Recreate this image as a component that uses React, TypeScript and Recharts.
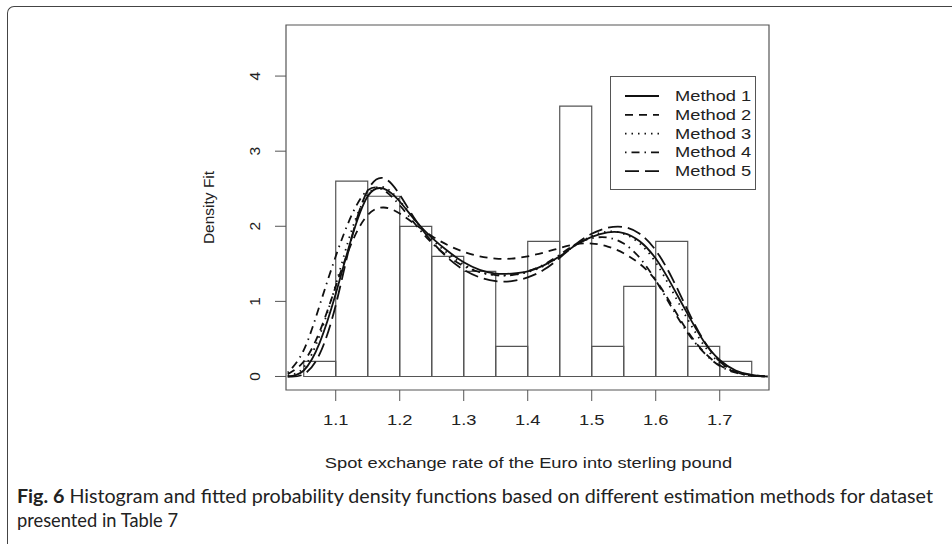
import React from "react";
import {
  ComposedChart,
  Line,
  XAxis,
  YAxis,
  ReferenceArea,
  Legend,
  Label,
} from "recharts";

// grid of x values the fitted densities were read at
const X_VALUES = [
  1.025, 1.05, 1.075, 1.1, 1.125, 1.15, 1.175, 1.2, 1.225, 1.25, 1.275, 1.3, 1.325, 1.35, 1.375, 1.4,
  1.425, 1.45, 1.475, 1.5, 1.525, 1.55, 1.575, 1.6, 1.625, 1.65, 1.675, 1.7, 1.725, 1.75, 1.775,
];

const METHOD_1 = [
  0.0, 0.08, 0.45, 1.1, 1.85, 2.4, 2.5, 2.33, 2.07, 1.85, 1.67, 1.52, 1.42, 1.37, 1.37, 1.4,
  1.48, 1.6, 1.75, 1.86, 1.92, 1.91, 1.8, 1.57, 1.22, 0.83, 0.47, 0.22, 0.08, 0.02, 0.0,
];
const METHOD_2 = [
  0.03, 0.2, 0.6, 1.2, 1.78, 2.15, 2.25, 2.17, 2.02, 1.87, 1.75, 1.66, 1.6, 1.57, 1.57, 1.6,
  1.65, 1.71, 1.76, 1.77, 1.73, 1.64, 1.5, 1.28, 0.95, 0.6, 0.33, 0.15, 0.06, 0.02, 0.0,
];
const METHOD_3 = [
  0.01, 0.12, 0.55, 1.22, 1.95, 2.42, 2.52, 2.34, 2.07, 1.83, 1.64, 1.49, 1.39, 1.35, 1.35, 1.39,
  1.47, 1.6, 1.75, 1.87, 1.93, 1.9, 1.77, 1.52, 1.15, 0.76, 0.42, 0.18, 0.06, 0.01, 0.0,
];
const METHOD_4 = [
  0.05, 0.35, 0.95, 1.6, 2.15, 2.48, 2.48, 2.28, 2.02, 1.78, 1.6, 1.47, 1.39, 1.35, 1.35, 1.4,
  1.49, 1.62, 1.76, 1.84, 1.85, 1.77, 1.58, 1.28, 0.92, 0.58, 0.32, 0.14, 0.05, 0.01, 0.0,
];
const METHOD_5 = [
  0.0, 0.03, 0.3, 0.95, 1.85, 2.48, 2.64, 2.42, 2.08, 1.8, 1.58, 1.42, 1.32, 1.27, 1.27, 1.32,
  1.42, 1.58, 1.76, 1.9, 1.98, 1.99, 1.9, 1.68, 1.32, 0.88, 0.48, 0.2, 0.06, 0.01, 0.0,
];

// histogram: bin edges and density heights
const BIN_EDGES = [1.05, 1.1, 1.15, 1.2, 1.25, 1.3, 1.35, 1.4, 1.45, 1.5, 1.55, 1.6, 1.65, 1.7, 1.75];
const BIN_DENSITY = [0.2, 2.6, 2.4, 2.0, 1.6, 1.4, 0.4, 1.8, 3.6, 0.4, 1.2, 1.8, 0.4, 0.2];

const X_TICKS = [1.1, 1.2, 1.3, 1.4, 1.5, 1.6, 1.7];
const Y_TICKS = [0, 1, 2, 3, 4];
const X_DOMAIN = [1.0223, 1.777];
const Y_DOMAIN = [-0.18, 4.68];

const SERIES = [
  { key: "m1", name: "Method 1", dash: undefined },
  { key: "m2", name: "Method 2", dash: "8 6" },
  { key: "m3", name: "Method 3", dash: "1.5 5" },
  { key: "m4", name: "Method 4", dash: "1.5 5 8 5" },
  { key: "m5", name: "Method 5", dash: "14 6" },
];

const curves = [METHOD_1, METHOD_2, METHOD_3, METHOD_4, METHOD_5];
const data = X_VALUES.map((x, i) => {
  const row: any = { x };
  SERIES.forEach((s, j) => (row[s.key] = curves[j][i]));
  return row;
});

const FONT = "'Liberation Sans', Arial, sans-serif";
const STRETCH = 1.18;

const XTick = (props: any) => {
  const { x, y, payload } = props;
  return (
    <g transform={`translate(${x},${y + 22}) scale(${STRETCH},1)`}>
      <text x={0} y={0} textAnchor="middle" fontSize={15.5} fontFamily={FONT} fill="#222">
        {payload.value}
      </text>
    </g>
  );
};

const YTick = (props: any) => {
  const { x, y, payload } = props;
  return (
    <text
      transform={`translate(${x - 19},${y}) rotate(-90)`}
      textAnchor="middle"
      dominantBaseline="central"
      fontSize={15.5}
      fontFamily={FONT}
      fill="#222"
    >
      {payload.value}
    </text>
  );
};

const renderLegend = () => (
  <svg width={147} height={115}>
    <rect x={0.5} y={0.5} width={145} height={113} fill="#fff" stroke="#555" />
    {SERIES.map((s, i) => {
      const cy = 20 + i * 18.8;
      return (
        <g key={s.key}>
          <line x1={15} x2={49} y1={cy} y2={cy} stroke="#111" strokeWidth={1.8} strokeDasharray={s.dash} />
          <g transform={`translate(65,${cy}) scale(${STRETCH},1)`}>
            <text x={0} y={0} dominantBaseline="central" fontSize={15.5} fontFamily={FONT} fill="#222">
              {s.name}
            </text>
          </g>
        </g>
      );
    })}
  </svg>
);

export default function App() {
  return (
    <div style={{ position: "absolute", left: 0, top: 0, width: 952, height: 544, background: "#fff", overflow: "hidden" }}>
      <div
        style={{
          position: "absolute",
          left: 7,
          top: 6,
          width: 1000,
          height: 600,
          borderTop: "1.5px solid #444",
          borderLeft: "1.5px solid #444",
          borderTopLeftRadius: 7,
        }}
      />
      <div style={{ position: "absolute", left: 0, top: 0 }}>
        <ComposedChart width={952} height={544} data={data} margin={{ top: 25, right: 183, bottom: 0, left: 0 }}>
          <XAxis
            type="number"
            dataKey="x"
            domain={X_DOMAIN}
            ticks={X_TICKS}
            interval={0}
            allowDataOverflow
            height={154}
            tickSize={11}
            axisLine={false}
            tickLine={{ stroke: "#555" }}
            tick={<XTick />}
          >
            <Label
              content={(p: any) => {
                const vb = p.viewBox;
                return (
                  <g transform={`translate(${vb.x + vb.width / 2 + 1},${vb.y + 78}) scale(${STRETCH},1)`}>
                    <text x={0} y={0} textAnchor="middle" fontSize={15.5} fontFamily={FONT} fill="#222">
                      Spot exchange rate of the Euro into sterling pound
                    </text>
                  </g>
                );
              }}
            />
          </XAxis>
          <YAxis
            type="number"
            domain={Y_DOMAIN}
            ticks={Y_TICKS}
            interval={0}
            allowDataOverflow
            width={286}
            tickSize={11}
            axisLine={false}
            tickLine={{ stroke: "#555" }}
            tick={<YTick />}
          >
            <Label
              content={(p: any) => {
                const vb = p.viewBox;
                return (
                  <text
                    transform={`translate(${vb.x + vb.width - 78},${vb.y + vb.height / 2}) rotate(-90)`}
                    textAnchor="middle"
                    dominantBaseline="central"
                    fontSize={15.5}
                    fontFamily={FONT}
                    fill="#222"
                  >
                    Density Fit
                  </text>
                );
              }}
            />
          </YAxis>
          {BIN_DENSITY.map((h, i) => (
            <ReferenceArea
              key={`bin-${i}`}
              x1={BIN_EDGES[i]}
              x2={BIN_EDGES[i + 1]}
              y1={0}
              y2={h}
              fill="none"
              fillOpacity={0}
              stroke="#555"
              strokeWidth={1.2}
            />
          ))}
          <ReferenceArea
            x1={X_DOMAIN[0]}
            x2={X_DOMAIN[1]}
            y1={Y_DOMAIN[0]}
            y2={Y_DOMAIN[1]}
            fill="none"
            fillOpacity={0}
            stroke="#555"
            strokeWidth={1.2}
          />
          {SERIES.map((s) => (
            <Line
              key={s.key}
              dataKey={s.key}
              name={s.name}
              type="natural"
              stroke="#111"
              strokeWidth={1.8}
              strokeDasharray={s.dash}
              dot={false}
              activeDot={false}
              isAnimationActive={false}
            />
          ))}
          <Legend
            layout="horizontal"
            align="center"
            verticalAlign="middle"
            content={renderLegend}
            wrapperStyle={{ left: 610, top: 76, width: 147, height: 115 }}
          />
        </ComposedChart>
      </div>
      <svg style={{ position: "absolute", left: 0, top: 0 }} width={952} height={544} pointerEvents="none">
        <text x={17} y={503} fontSize={18.5} fontFamily="Lato, sans-serif" fill="#222" textLength={916} lengthAdjust="spacingAndGlyphs">
          <tspan fontWeight="bold">Fig. 6</tspan>
          <tspan>{"  Histogram and fitted probability density functions based on different estimation methods for dataset"}</tspan>
        </text>
        <text x={17} y={527} fontSize={18.5} fontFamily="Lato, sans-serif" fill="#222" textLength={161} lengthAdjust="spacingAndGlyphs">
          presented in Table 7
        </text>
      </svg>
    </div>
  );
}
